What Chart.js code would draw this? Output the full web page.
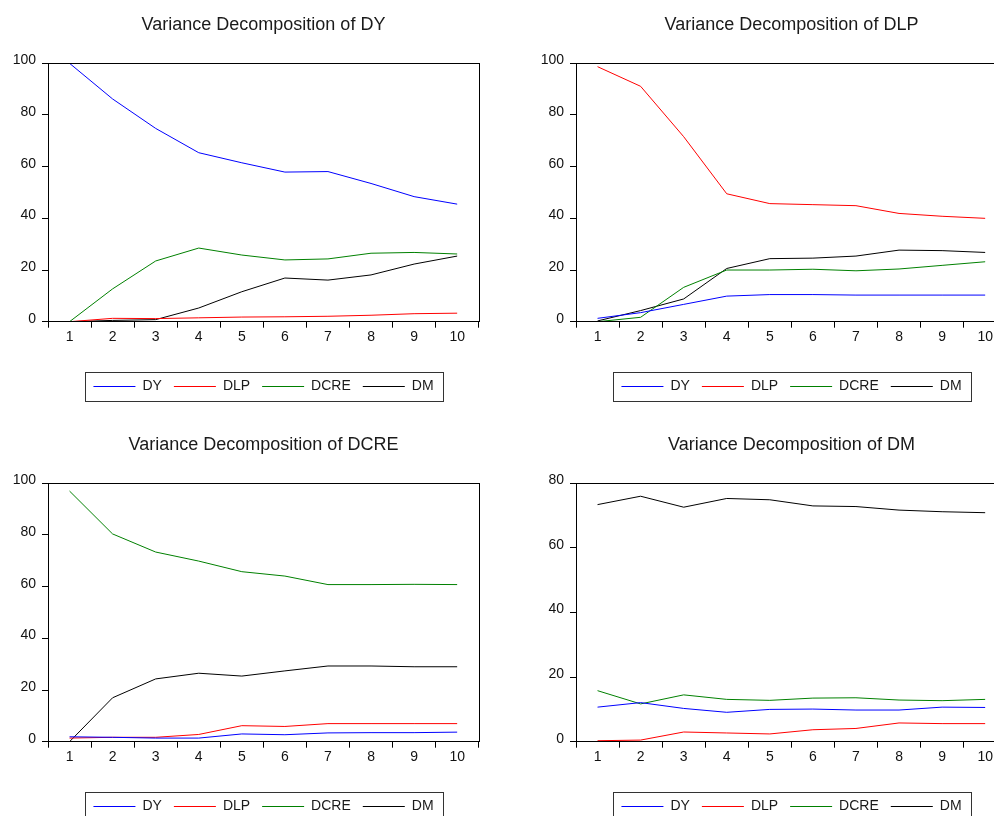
<!DOCTYPE html>
<html>
<head>
<meta charset="utf-8">
<script src="https://cdn.jsdelivr.net/npm/chart.js@4/dist/chart.umd.min.js"></script>
<style>
  html, body { margin: 0; padding: 0; background: #fff; width: 994px; height: 816px; overflow: hidden; }
  canvas { position: absolute; }
</style>
</head>
<body>
<canvas id="c1" width="527" height="420" style="left:0px;top:0px"></canvas>
<canvas id="c2" width="527" height="420" style="left:528px;top:0px"></canvas>
<canvas id="c3" width="527" height="420" style="left:0px;top:420px"></canvas>
<canvas id="c4" width="527" height="420" style="left:528px;top:420px"></canvas>
<script>
// forecast horizons
var horizons = ['1', '2', '3', '4', '5', '6', '7', '8', '9', '10'];
var seriesNames = ['DY', 'DLP', 'DCRE', 'DM'];
var seriesColors = ['#0000ff', '#ff0000', '#008000', '#000000'];

// Variance Decomposition of DY
var dyDY   = [100, 86.2, 74.8, 65.4, 61.5, 57.9, 58.1, 53.5, 48.4, 45.5];
var dyDLP  = [0, 1.3, 1.2, 1.5, 1.8, 1.9, 2.1, 2.5, 3.1, 3.3];
var dyDCRE = [0, 12.7, 23.5, 28.5, 25.8, 23.9, 24.3, 26.5, 26.8, 26.2];
var dyDM   = [0, 0.5, 0.8, 5.3, 11.6, 16.9, 16.1, 18.1, 22.3, 25.4];

// Variance Decomposition of DLP
var dlpDY   = [1.3, 3.5, 6.7, 9.9, 10.5, 10.5, 10.3, 10.3, 10.3, 10.3];
var dlpDLP  = [98.7, 91.1, 71.6, 49.5, 45.7, 45.3, 44.9, 41.9, 40.8, 40.0];
var dlpDCRE = [0, 1.7, 13.3, 20.0, 20.0, 20.3, 19.7, 20.4, 21.8, 23.2];
var dlpDM   = [0.3, 4.3, 8.8, 20.6, 24.4, 24.6, 25.4, 27.7, 27.5, 26.8];

// Variance Decomposition of DCRE
var dcreDY   = [1.9, 1.7, 1.4, 1.4, 3.0, 2.7, 3.4, 3.5, 3.5, 3.7];
var dcreDLP  = [1.4, 1.7, 1.7, 2.8, 6.2, 5.9, 7.0, 7.0, 7.0, 7.0];
var dcreDCRE = [97.0, 80.4, 73.4, 69.9, 65.8, 64.1, 60.8, 60.8, 60.9, 60.8];
var dcreDM   = [0, 17.0, 24.3, 26.5, 25.4, 27.4, 29.3, 29.3, 29.0, 29.0];

// Variance Decomposition of DM
var dmDY   = [10.7, 12.1, 10.3, 9.1, 10.0, 10.1, 9.8, 9.8, 10.7, 10.6];
var dmDLP  = [0.3, 0.5, 3.0, 2.7, 2.4, 3.7, 4.1, 5.8, 5.6, 5.6];
var dmDCRE = [15.8, 11.7, 14.5, 13.1, 12.8, 13.5, 13.6, 12.9, 12.7, 13.1];
var dmDM   = [73.4, 76.0, 72.6, 75.3, 74.9, 73.0, 72.8, 71.7, 71.2, 70.9];

// y axis ticks
var yTicks100 = [0, 20, 40, 60, 80, 100];
var yTicks80  = [0, 20, 40, 60, 80];

Chart.defaults.font.family = '"Liberation Sans", Arial, sans-serif';
Chart.defaults.font.size = 14;
Chart.defaults.color = '#111';

// box round the plot area and round the legend
var framePlugin = {
    id: 'frame',
    afterDraw: function(chart) {
        var ctx = chart.ctx;
        var a = chart.chartArea;
        ctx.save();
        ctx.strokeStyle = '#000';
        ctx.lineWidth = 1;
        ctx.strokeRect(Math.round(a.left) + 0.5, Math.round(a.top) + 0.5,
            Math.round(a.right - a.left), Math.round(a.bottom - a.top));
        var hb = chart.legend.legendHitBoxes;
        if (hb && hb.length) {
            var first = hb[0], last = hb[hb.length - 1];
            var x0 = Math.round(first.left - 8) + 0.5;
            var x1 = Math.round(last.left + last.width + 9) + 0.5;
            var y0 = Math.round(first.top - 7.5) + 0.5;
            var y1 = Math.round(first.top + first.height + 7.5) + 0.5;
            ctx.strokeStyle = '#333';
            ctx.strokeRect(x0, y0, x1 - x0, y1 - y0);
        }
        ctx.restore();
    }
};

function makeChart(id, title, series, ticks) {
    var datasets = [];
    for (var i = 0; i < series.length; i++) {
        datasets.push({
            label: seriesNames[i],
            data: series[i],
            borderColor: seriesColors[i],
            backgroundColor: seriesColors[i],
            borderWidth: 1,
            pointRadius: 0,
            tension: 0
        });
    }
    var ctx = document.getElementById(id).getContext('2d');
    return new Chart(ctx, {
        type: 'line',
        data: { labels: horizons, datasets: datasets },
        options: {
            responsive: false,
            animation: false,
            layout: { padding: { top: 0, right: 0, bottom: 16.5, left: 0 } },
            plugins: {
                title: {
                    display: true,
                    text: title,
                    color: '#1a1a1a',
                    font: { size: 18, weight: 'normal' },
                    padding: { top: 14.5, bottom: 27.2 }
                },
                legend: {
                    position: 'bottom',
                    labels: {
                        usePointStyle: true,
                        pointStyle: 'line',
                        pointStyleWidth: 42,
                        padding: 12,
                        color: '#1a1a1a',
                        font: { size: 14 }
                    }
                },
                tooltip: { enabled: false }
            },
            scales: {
                x: {
                    offset: true,
                    grid: { offset: true, drawOnChartArea: false, drawTicks: true, tickLength: 6, color: '#000' },
                    border: { display: false },
                    ticks: { padding: 1, color: '#111', maxRotation: 0 },
                    afterFit: function(scale) { scale.height = 45.8; }
                },
                y: {
                    min: ticks[0],
                    max: ticks[ticks.length - 1],
                    grid: { drawOnChartArea: false, drawTicks: true, tickLength: 6, color: '#000' },
                    border: { display: false },
                    ticks: { stepSize: ticks[1] - ticks[0], padding: 6, labelOffset: -3, color: '#111' },
                    afterFit: function(scale) { scale.width = 48; }
                },
                // empty right axis, keeps the plot centred under the title
                yRight: {
                    position: 'right',
                    grid: { display: false },
                    border: { display: false },
                    ticks: { display: false },
                    afterFit: function(scale) { scale.width = 48.3; }
                }
            }
        },
        plugins: [framePlugin]
    });
}

makeChart('c1', 'Variance Decomposition of DY', [dyDY, dyDLP, dyDCRE, dyDM], yTicks100);
makeChart('c2', 'Variance Decomposition of DLP', [dlpDY, dlpDLP, dlpDCRE, dlpDM], yTicks100);
makeChart('c3', 'Variance Decomposition of DCRE', [dcreDY, dcreDLP, dcreDCRE, dcreDM], yTicks100);
makeChart('c4', 'Variance Decomposition of DM', [dmDY, dmDLP, dmDCRE, dmDM], yTicks80);
</script>
</body>
</html>
